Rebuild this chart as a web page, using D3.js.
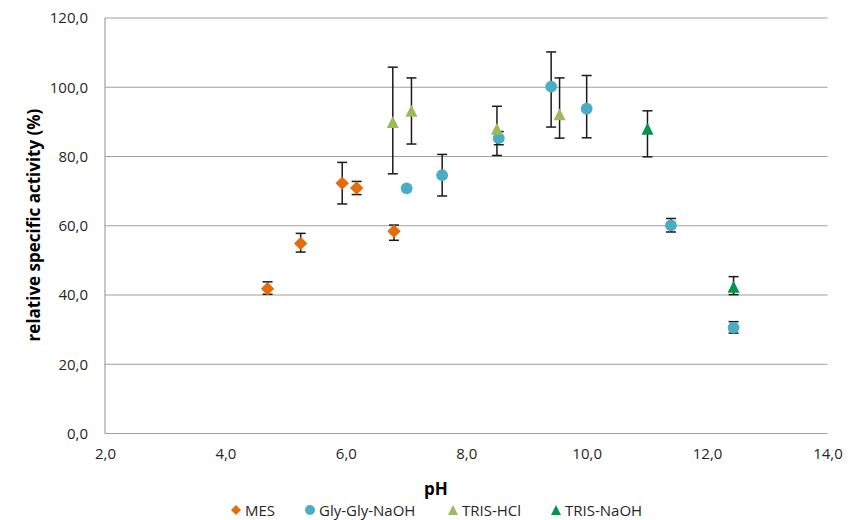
<!DOCTYPE html>
<html>
<head>
<meta charset="utf-8">
<script src="https://cdn.jsdelivr.net/npm/d3@7"></script>
<style>
  html, body { margin: 0; padding: 0; background: #fff; }
  svg { display: block; font-family: "Open Sans", Lato, "Liberation Sans", sans-serif; }
</style>
</head>
<body>
<svg id="chart" width="856" height="520"></svg>
<script>
// ---- data ----
const xTicks = [2, 4, 6, 8, 10, 12, 14];
const yTicks = [0, 20, 40, 60, 80, 100, 120];

const seriesNames = ["MES", "Gly-Gly-NaOH", "TRIS-HCl", "TRIS-NaOH"];

const mesX = [4.70, 5.25, 5.94, 6.18, 6.80];
const mesY = [41.8, 54.9, 72.3, 70.9, 58.4];
const mesErrPlus = [2.0, 2.9, 6.0, 1.9, 1.8];
const mesErrMinus = [1.6, 2.5, 6.0, 1.9, 2.6];

const glyX = [7.01, 7.60, 8.54, 9.41, 10.00, 11.40, 12.44];
const glyY = [70.8, 74.6, 85.3, 100.2, 93.8, 60.1, 30.6];
const glyErrPlus = [0, 6.0, 1.9, 10.0, 9.6, 2.0, 1.7];
const glyErrMinus = [0, 6.0, 1.9, 11.7, 8.4, 1.9, 1.6];

const trisHclX = [6.78, 7.09, 8.51, 9.55];
const trisHclY = [90.0, 93.2, 88.0, 92.2];
const trisHclErrPlus = [15.8, 9.5, 6.5, 10.5];
const trisHclErrMinus = [15.0, 9.6, 7.7, 6.9];

const trisNaohX = [11.01, 12.44];
const trisNaohY = [88.0, 42.4];
const trisNaohErrPlus = [5.2, 2.9];
const trisNaohErrMinus = [8.1, 2.3];

// ---- build ----
const colors = ["#E46C0A", "#4BACC6", "#9BBB59", "#00964B"];

// custom symbol types; "size" is used as the marker width in px
const diamond = { draw(ctx, w) { const h = w / 2; ctx.moveTo(0, -h); ctx.lineTo(h, 0); ctx.lineTo(0, h); ctx.lineTo(-h, 0); ctx.closePath(); } };
const circle = { draw(ctx, w) { const r = w / 2; ctx.moveTo(r, 0); ctx.arc(0, 0, r, 0, 2 * Math.PI); } };
const triangle = { draw(ctx, w) { const h = w / 2; ctx.moveTo(0, -h); ctx.lineTo(h, h); ctx.lineTo(-h, h); ctx.closePath(); } };
const shapes = [diamond, circle, triangle, triangle];
const markerW = [13.4, 11.8, 12, 12];
const legendW = [10, 10, 10, 10];

const series = [
  {x: mesX, y: mesY, ep: mesErrPlus, em: mesErrMinus},
  {x: glyX, y: glyY, ep: glyErrPlus, em: glyErrMinus},
  {x: trisHclX, y: trisHclY, ep: trisHclErrPlus, em: trisHclErrMinus},
  {x: trisNaohX, y: trisNaohY, ep: trisNaohErrPlus, em: trisNaohErrMinus}
].map((s, i) => ({
  name: seriesNames[i], color: colors[i], shape: shapes[i],
  points: s.x.map((xv, j) => ({x: xv, y: s.y[j], ep: s.ep[j], em: s.em[j]}))
}));

const svg = d3.select("#chart");
const x = d3.scaleLinear().domain([2, 14]).range([105, 827.5]);
const y = d3.scaleLinear().domain([0, 120]).range([433.5, 18]);
const fmt = v => d3.format(".1f")(v).replace(".", ",");

// gridlines
svg.append("g").selectAll("line").data(yTicks).join("line")
  .attr("x1", x(2)).attr("x2", x(14))
  .attr("y1", d => y(d)).attr("y2", d => y(d))
  .attr("stroke", "#a0a0a0").attr("stroke-width", 1.2);

// left axis line
svg.append("line")
  .attr("x1", x(2)).attr("x2", x(2)).attr("y1", y(0)).attr("y2", y(120))
  .attr("stroke", "#a0a0a0").attr("stroke-width", 1.2);

// y axis labels
const yAxis = d3.axisLeft(y).tickValues(yTicks).tickFormat(fmt).tickSize(0).tickPadding(17);
const gy = svg.append("g").attr("transform", `translate(${x(2)},0)`).call(yAxis);
gy.select(".domain").remove();
gy.selectAll("text").attr("font-size", 15).attr("fill", "#262626")
  .attr("font-family", "'Open Sans', Lato, sans-serif");

// x axis labels
const xAxis = d3.axisBottom(x).tickValues(xTicks).tickFormat(fmt).tickSize(0).tickPadding(15);
const gx = svg.append("g").attr("transform", `translate(0,${y(0)})`).call(xAxis);
gx.select(".domain").remove();
gx.selectAll("text").attr("font-size", 15).attr("fill", "#262626")
  .attr("font-family", "'Open Sans', Lato, sans-serif");

// axis titles
svg.append("text").attr("x", 436).attr("y", 495).attr("text-anchor", "middle")
  .attr("font-size", 17).attr("font-weight", "bold").attr("fill", "#000").text("pH");
svg.append("text").attr("transform", "translate(40,225) rotate(-90)")
  .attr("text-anchor", "middle").attr("font-size", 17).attr("font-weight", "bold")
  .attr("fill", "#000").text("relative specific activity (%)");

// error bars
const capW = 5;
series.forEach(s => {
  const g = svg.append("g");
  s.points.filter(p => p.ep > 0 || p.em > 0).forEach(p => {
    const cx = x(p.x), yt = y(p.y + p.ep), yb = y(p.y - p.em);
    g.append("line").attr("x1", cx).attr("x2", cx).attr("y1", yt).attr("y2", yb)
      .attr("stroke", "#1a1a1a").attr("stroke-width", 1.5);
    [yt, yb].forEach(yy => g.append("line")
      .attr("x1", cx - capW).attr("x2", cx + capW).attr("y1", yy).attr("y2", yy)
      .attr("stroke", "#1a1a1a").attr("stroke-width", 1.5));
  });
});

// markers
series.forEach((s, i) => {
  svg.append("g").selectAll("path").data(s.points).join("path")
    .attr("transform", d => `translate(${x(d.x)},${y(d.y)})`)
    .attr("d", d3.symbol().type(s.shape).size(markerW[i]))
    .attr("fill", s.color);
});

// legend
const legendX = [236, 310, 453, 556];
const lg = svg.append("g");
series.forEach((s, i) => {
  lg.append("path")
    .attr("transform", `translate(${legendX[i]},510)`)
    .attr("d", d3.symbol().type(s.shape).size(legendW[i]))
    .attr("fill", s.color);
  lg.append("text").attr("x", legendX[i] + 9).attr("y", 515.5)
    .attr("font-size", 15).attr("fill", "#262626").text(s.name);
});
</script>
</body>
</html>
